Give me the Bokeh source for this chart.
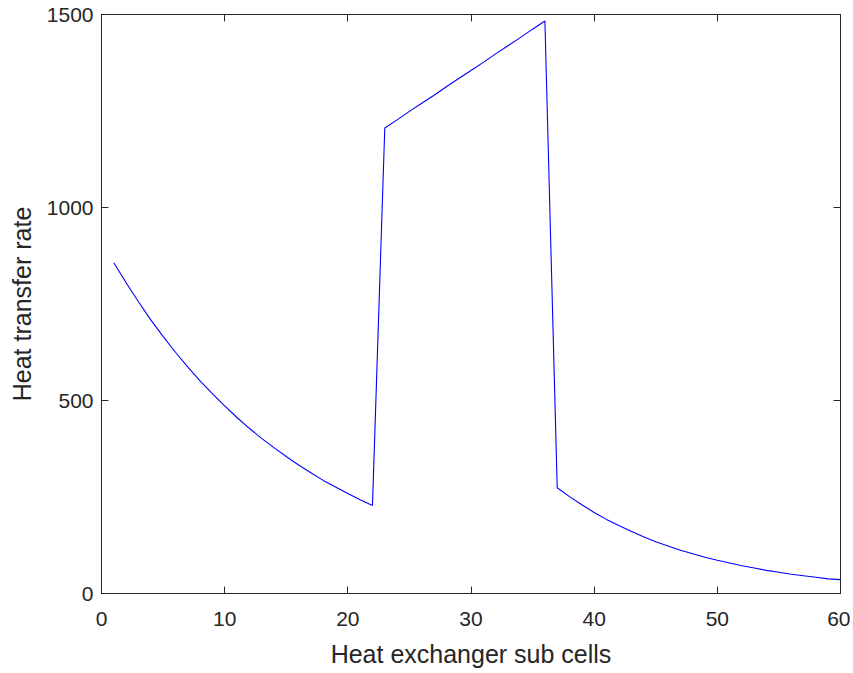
from bokeh.plotting import figure
from bokeh.models import Range1d, LinearAxis, FixedTicker, CustomJSTickFormatter
from bokeh.embed import file_html
from bokeh.resources import INLINE

# Data
sub_cells = list(range(1, 61))
heat_rate = [
    857, 805, 756, 709, 666, 625, 587, 551, 518, 486, 456, 428, 402, 378, 355,
    333, 313, 293, 276, 259, 243, 228,
    1206, 1227, 1249, 1270, 1291, 1313, 1334, 1355, 1376, 1398, 1419, 1440, 1462, 1483,
    274, 251, 230, 210, 192, 176, 161, 147, 134, 123, 112, 103, 94, 86, 79, 72,
    66, 60, 55, 50, 46, 42, 38, 36,
]
x_ticks = [0, 10, 20, 30, 40, 50, 60]
y_ticks = [0, 500, 1000, 1500]

AX = "#262626"
FONT = "Liberation Sans"
TICK_FS = "21px"
LABEL_FS = "25px"

p = figure(width=850, height=670, output_backend="svg", toolbar_location=None,
           x_range=Range1d(0, 60), y_range=Range1d(0, 1500),
           min_border_left=101, min_border_right=10, min_border_top=14, min_border_bottom=73)
p.xgrid.visible = False
p.ygrid.visible = False
p.outline_line_color = AX
p.outline_line_width = 1
p.background_fill_color = "white"

p.line(sub_cells, heat_rate, line_color="#0000ff", line_width=1.1)

def style(ax, ticks, show_labels):
    ax.ticker = FixedTicker(ticks=ticks)
    ax.axis_line_color = AX
    ax.major_tick_line_color = AX
    ax.major_tick_in = 7
    ax.major_tick_out = 0
    ax.minor_tick_line_color = None
    ax.major_label_text_color = AX
    ax.major_label_text_font = FONT
    ax.axis_label_text_color = AX
    ax.axis_label_text_font = FONT
    ax.axis_label_text_font_style = "normal"
    ax.axis_label_text_font_size = LABEL_FS
    if show_labels:
        ax.major_label_text_font_size = TICK_FS
    else:
        ax.formatter = CustomJSTickFormatter(code="return '';")
        ax.major_label_text_font_size = "6px"
        ax.major_label_standoff = 0

xa = p.xaxis[0]
ya = p.yaxis[0]
style(xa, x_ticks, True)
style(ya, y_ticks, True)
xa.axis_label = "Heat exchanger sub cells"
ya.axis_label = "Heat transfer rate"
xa.major_label_standoff = 18
xa.axis_label_standoff = 11
ya.major_label_standoff = 8
ya.axis_label_standoff = 8

top = LinearAxis()
style(top, x_ticks, False)
p.add_layout(top, "above")
right = LinearAxis()
style(right, y_ticks, False)
p.add_layout(right, "right")

open("out.html", "w").write(file_html(p, INLINE))
